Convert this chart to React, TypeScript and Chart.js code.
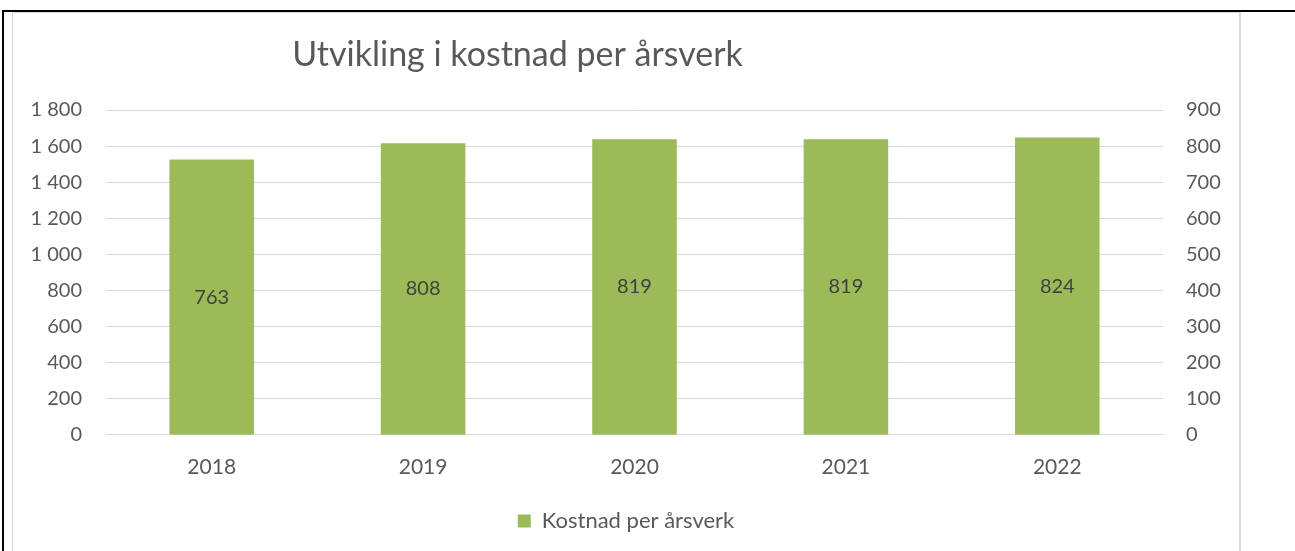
import React, { useEffect, useRef } from "react";
import { Chart, registerables } from "chart.js";

Chart.register(...registerables);

const categories = ["2018", "2019", "2020", "2021", "2022"];
const values = [763, 808, 819, 819, 824];
const seriesLabel = "Kostnad per årsverk";
const chartTitle = "Utvikling i kostnad per årsverk";
const leftMax = 1800;
const leftStep = 200;
const rightMax = 900;
const rightStep = 100;

const FONT = "Lato, 'Open Sans', sans-serif";
const TEXT = "#595959";
const GRID = "#d9d9d9";
const BAR = "#9bbb59";

const fmt = (v: number) => String(v).replace(/\B(?=(\d{3})+(?!\d))/g, " ");

const titlePlugin = {
  id: "customTitle",
  afterDraw(chart: any) {
    const ctx = chart.ctx;
    ctx.save();
    ctx.font = `34px ${FONT}`;
    ctx.fillStyle = TEXT;
    ctx.textAlign = "center";
    ctx.textBaseline = "alphabetic";
    ctx.fillText(chartTitle, 504.5, 53);
    ctx.restore();
  },
};

const labelPlugin = {
  id: "barLabels",
  afterDatasetsDraw(chart: any) {
    const ctx = chart.ctx;
    const meta = chart.getDatasetMeta(0);
    ctx.save();
    ctx.font = `20px ${FONT}`;
    ctx.fillStyle = "#404040";
    ctx.textAlign = "center";
    ctx.textBaseline = "middle";
    meta.data.forEach((bar: any, i: number) => {
      const { x, y, base } = bar.getProps(["x", "y", "base"], true);
      ctx.fillText(String(values[i]), x, (y + base) / 2);
    });
    ctx.restore();
  },
};

export default function App() {
  const ref = useRef<HTMLCanvasElement>(null);

  useEffect(() => {
    if (!ref.current) return;
    const chart = new Chart(ref.current, {
      type: "bar",
      data: {
        labels: categories,
        datasets: [
          {
            label: seriesLabel,
            data: values,
            backgroundColor: BAR,
            yAxisID: "y1",
            barPercentage: 0.4,
            categoryPercentage: 1,
          },
        ],
      },
      options: {
        animation: false,
        responsive: true,
        maintainAspectRatio: false,
        layout: { padding: { top: 97, bottom: 9, left: 0, right: 0 } },
        plugins: {
          title: { display: false },
          tooltip: { enabled: false },
          legend: {
            display: true,
            position: "bottom",
            labels: {
              boxWidth: 13,
              boxHeight: 13,
              color: TEXT,
              font: { family: FONT, size: 22 },
            },
          },
        },
        scales: {
          x: {
            grid: { display: false, drawTicks: false },
            border: { display: true, color: GRID },
            ticks: { color: TEXT, font: { family: FONT, size: 21 }, padding: 20 },
          },
          y: {
            position: "left",
            min: 0,
            max: leftMax,
            ticks: {
              stepSize: leftStep,
              color: TEXT,
              font: { family: FONT, size: 20 },
              padding: 24,
              callback: (v: any) => fmt(Number(v)),
            },
            grid: { color: GRID, drawTicks: false },
            border: { display: false },
            afterFit: (s: any) => {
              s.width = 93;
            },
          },
          y1: {
            position: "right",
            min: 0,
            max: rightMax,
            ticks: {
              stepSize: rightStep,
              color: TEXT,
              font: { family: FONT, size: 20 },
              padding: 23,
              callback: (v: any) => fmt(Number(v)),
            },
            grid: { display: false, drawTicks: false },
            border: { display: false },
            afterFit: (s: any) => {
              s.width = 76;
            },
          },
        },
      } as any,
      plugins: [titlePlugin, labelPlugin],
    });
    return () => chart.destroy();
  }, []);

  return (
    <div style={{ position: "fixed", left: 0, top: 0, width: 1295, height: 551, overflow: "hidden", background: "#fff" }}>
      <div style={{ position: "absolute", left: 2, top: 10, width: 1293, height: 2, background: "#000" }} />
      <div style={{ position: "absolute", left: 2, top: 10, width: 2, height: 541, background: "#000" }} />
      <div
        style={{
          position: "absolute",
          left: 12,
          top: 12,
          width: 1226,
          height: 560,
          borderTop: `1px solid ${GRID}`,
          borderLeft: `1px solid ${GRID}`,
          borderRight: `2px solid ${GRID}`,
          boxSizing: "content-box",
        }}
      />
      <div style={{ position: "absolute", left: 13, top: 13, width: 1226, height: 538 }}>
        <canvas ref={ref} />
      </div>
    </div>
  );
}
